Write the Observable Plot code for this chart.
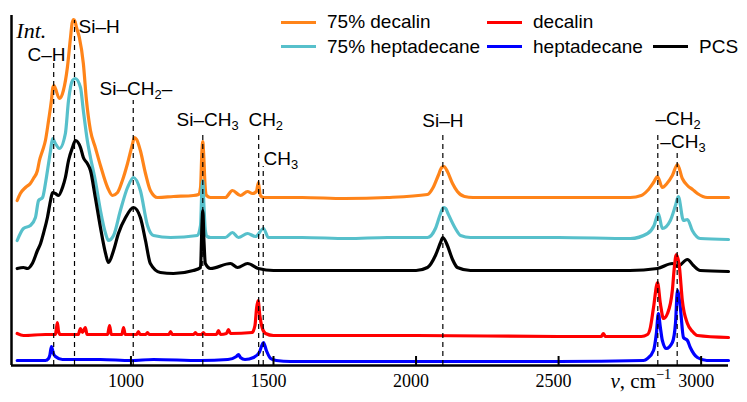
<!DOCTYPE html>
<html>
<head>
<meta charset="utf-8">
<script src="https://cdn.jsdelivr.net/npm/d3@7"></script>
<script src="https://cdn.jsdelivr.net/npm/@observablehq/plot@0.6"></script>
<style>
  html, body { margin: 0; padding: 0; background: #fff; }
  #wrap { position: relative; width: 747px; height: 402px; overflow: hidden; }
  #legend { position: absolute; left: 281px; top: 10px; display: grid;
    grid-template-columns: 206px 166px auto; grid-auto-rows: 24.5px; align-items: center;
    font-family: "Liberation Sans", Arial, sans-serif; font-size: 19px; color: #000; }
  #legend .item { display: flex; align-items: center; white-space: nowrap; }
  #legend .sw { display: inline-block; width: 35px; height: 3px; margin-right: 11px; }
</style>
</head>
<body>
<div id="wrap"><div id="legend"></div></div>
<script>
// ---- data (wavenumber cm^-1, intensity in arbitrary offset units) ----
const decalin75 = [[601,165],[612,172],[630,178],[647,182],[658,187],[672,195],[679,205],[690,215],[700,225],[711,245],[721,265],[726,278],[730,280],[735,277],[749,267],[763,275],[777,298],[788,328],[794,343],[799,346],[804,344],[809,338],[819,328],[833,302],[844,265],[858,235],[875,218],[893,200],[918,178],[935,170],[953,173],[970,185],[988,202],[1005,221],[1012,228],[1020,226],[1033,215],[1051,192],[1068,175],[1093,168],[1149,169],[1219,170],[1237,171],[1244,178],[1249,215],[1252,224],[1255,212],[1260,180],[1265,170],[1279,168],[1331,168],[1356,175],[1384,170],[1409,174],[1426,172],[1440,174],[1447,183],[1454,170],[1465,168],[1600,168],[1750,167],[1900,168],[2040,171],[2060,178],[2078,190],[2090,198],[2098,199],[2110,194],[2128,182],[2145,174],[2170,169],[2200,168],[2500,168],[2752,168],[2790,170],[2812,175],[2833,183],[2847,189],[2864,178],[2880,182],[2899,190],[2917,201],[2934,187],[2952,180],[2970,176],[2987,172],[3022,168],[3096,168]];
const heptadecane75 = [[601,125],[623,137],[647,140],[665,148],[676,165],[690,168],[700,182],[711,202],[718,215],[725,227],[735,222],[749,217],[770,232],[781,265],[795,285],[805,287],[823,278],[833,255],[847,225],[858,208],[875,185],[893,155],[911,132],[921,125],[939,130],[963,155],[988,178],[1009,188],[1033,175],[1058,140],[1079,130],[1139,128],[1233,130],[1244,140],[1249,178],[1252,185],[1256,160],[1261,135],[1267,129],[1279,128],[1331,128],[1356,133],[1377,128],[1409,132],[1437,129],[1465,137],[1482,128],[1600,128],[1760,127],[1900,128],[2040,128],[2068,137],[2086,152],[2096,158],[2104,157],[2112,152],[2138,137],[2156,130],[2191,128],[2500,128],[2752,127],[2812,132],[2835,140],[2850,152],[2864,137],[2892,145],[2910,160],[2920,169],[2938,145],[2952,146],[2969,135],[2997,127],[3096,126]];
const pcs = [[601,97],[623,98],[637,97],[654,102],[672,115],[683,122],[693,132],[707,148],[718,165],[725,173],[735,172],[746,170],[760,178],[770,188],[781,205],[795,218],[805,225],[823,218],[833,208],[847,202],[858,195],[875,168],[893,138],[911,112],[921,103],[939,115],[956,132],[981,148],[1009,158],[1033,148],[1051,125],[1068,102],[1103,93],[1149,92],[1219,95],[1244,98],[1249,140],[1252,155],[1256,125],[1261,102],[1279,97],[1349,102],[1374,98],[1409,102],[1447,97],[1500,95],[2000,95],[2040,98],[2068,110],[2086,123],[2094,128],[2110,120],[2128,106],[2145,98],[2191,95],[2750,95],[2847,97],[2899,102],[2917,99],[2952,106],[2973,100],[2997,95],[3096,94]];
const decalin = [[601,32],[623,30],[700,31],[735,31],[738,36],[742,43],[746,34],[752,31],[815,31],[823,37],[830,33],[836,36],[840,38],[846,31],[918,31],[925,40],[931,31],[968,31],[974,38],[980,31],[1020,31],[1026,34],[1032,31],[1052,31],[1058,33],[1064,31],[1133,31],[1139,34],[1145,31],[1220,31],[1226,33],[1232,31],[1248,31],[1254,33],[1260,31],[1300,31],[1307,35],[1314,31],[1335,32],[1342,36],[1349,32],[1425,33],[1435,40],[1441,58],[1446,65],[1452,50],[1460,38],[1472,32],[1500,30],[1600,30],[2000,30],[2500,29],[2650,29],[2657,32],[2664,29],[2790,29],[2812,31],[2822,38],[2833,58],[2847,83],[2857,62],[2868,47],[2882,52],[2899,75],[2906,98],[2913,111],[2924,98],[2934,65],[2952,42],[2970,34],[2987,30],[3096,28]];
const heptadecane = [[601,5],[700,5],[711,7],[716,11],[721,19],[728,12],[735,9],[760,6],[893,6],[1000,5],[1079,6],[1244,5],[1340,6],[1370,9],[1377,11],[1384,8],[1400,6],[1430,8],[1450,13],[1465,23],[1475,15],[1490,7],[1510,5],[1559,4],[2000,4],[2500,4],[2798,5],[2812,7],[2833,15],[2843,32],[2850,52],[2857,38],[2864,25],[2878,17],[2899,23],[2910,42],[2917,75],[2927,58],[2938,28],[2952,25],[2962,18],[2987,8],[3020,5],[3096,5]];

const seriesNames  = ["75% decalin", "75% heptadecane", "PCS", "heptadecane", "decalin"];
const seriesData   = [decalin75, heptadecane75, pcs, heptadecane, decalin];
const seriesColors = ["#ff8419", "#57c0cb", "#000000", "#0000ff", "#ff0000"];
const legendOrder  = ["75% decalin", "decalin", "", "75% heptadecane", "heptadecane", "PCS"];

// band assignments: position, top of the dashed marker, label and label anchor
const bandPos    = [729, 802, 1008, 1252, 1448, 1464, 2094, 2848, 2916];
const bandTop    = [303, 345, 265, 233, 233, 199, 232, 230, 213];
const bandLabel  = ["C–H", "Si–H", "Si–CH_{2}–", "Si–CH_{3}", "CH_{2}", "CH_{3}", "Si–H", "–CH_{2}", "–CH_{3}"];
const bandLabelX = [637, 816, 890, 1160, 1412, 1465, 2022, 2840, 2857];
const bandLabelY = [305, 333, 271, 240, 240, 201, 239, 241, 218];

const xTicks = [1000, 1500, 2000, 2500, 3000];
const xDomain = [581, 3096];
const yDomain = [0, 350];
const yTitle = "Int.";   const yTitlePos = [598, 328];
const xTitle = "*ν*, cm^{−1}"; const xTitlePos = [2682, -22];

// ---- chart ----
const bands = bandPos.map((v, i) => ({v, top: bandTop[i], label: bandLabel[i], lx: bandLabelX[i], ly: bandLabelY[i]}));
const sans = "'Liberation Sans', Arial, sans-serif";
const serif = "'Liberation Serif', 'Times New Roman', serif";

const chart = Plot.plot({
  width: 747, height: 402,
  marginLeft: 11, marginRight: 19, marginTop: 15, marginBottom: 37,
  x: {domain: xDomain, axis: null},
  y: {domain: yDomain, axis: null},
  style: {background: "white", overflow: "visible"},
  marks: [
    ...seriesData.map((d, i) => Plot.line(d, {x: p => p[0], y: p => p[1], stroke: seriesColors[i], strokeWidth: 3.2, curve: "monotone-x"})),
    Plot.ruleX(bands, {x: "v", y1: yDomain[0], y2: "top", stroke: "black", strokeWidth: 1.2, strokeDasharray: "5,4"}),
    Plot.text(bands, {x: "lx", y: "ly", text: "label", textAnchor: "start", lineAnchor: "bottom", fontSize: 19, fontFamily: sans, fill: "black"}),
    Plot.ruleY([yDomain[0]], {stroke: "black", strokeWidth: 2.5}),
    Plot.ruleX([xDomain[0]], {stroke: "black", strokeWidth: 2.5}),
    Plot.axisX({ticks: xTicks, tickSize: 9, dy: -9, strokeWidth: 2, tickFormat: () => ""}),
    Plot.axisX({ticks: xTicks, tickSize: 0, tickPadding: 9, dx: -5, fontSize: 18, fontFamily: serif, tickFormat: d => String(d)}),
    Plot.text([yTitle], {x: yTitlePos[0], y: yTitlePos[1], text: d => d, textAnchor: "start", lineAnchor: "bottom", fontSize: 22, fontStyle: "italic", fontFamily: serif}),
    Plot.text([xTitle], {x: xTitlePos[0], y: xTitlePos[1], text: d => d, textAnchor: "start", lineAnchor: "bottom", fontSize: 21, fontFamily: serif})
  ]
});
const wrap = document.getElementById("wrap");
wrap.insertBefore(chart, wrap.firstChild);

// rich text: _{sub}, ^{sup}, *italic*
function richify(root) {
  root.querySelectorAll("text").forEach(t => {
    const s = t.textContent;
    if (!/_\{|\^\{|\*/.test(s)) return;
    const F = parseFloat(getComputedStyle(t).fontSize) || 16;
    while (t.firstChild) t.removeChild(t.firstChild);
    const parts = s.split(/(_\{[^}]*\}|\^\{[^}]*\}|\*[^*]*\*)/).filter(p => p);
    let shift = 0;
    for (const p of parts) {
      const ts = document.createElementNS("http://www.w3.org/2000/svg", "tspan");
      let target = 0;
      if (p.startsWith("_{")) { ts.textContent = p.slice(2, -1); ts.setAttribute("font-size", (0.68 * F) + "px"); target = 0.24 * F; }
      else if (p.startsWith("^{")) { ts.textContent = p.slice(2, -1); ts.setAttribute("font-size", (0.68 * F) + "px"); target = -0.4 * F; }
      else if (p.startsWith("*")) { ts.textContent = p.slice(1, -1); ts.setAttribute("font-style", "italic"); }
      else ts.textContent = p;
      const d = target - shift;
      if (d) ts.setAttribute("dy", d);
      shift = target;
      t.appendChild(ts);
    }
  });
}
richify(chart);

// legend
const legend = document.getElementById("legend");
legendOrder.forEach(name => {
  const item = document.createElement("div");
  item.className = "item";
  const i = seriesNames.indexOf(name);
  if (i >= 0) {
    const sw = document.createElement("span");
    sw.className = "sw"; sw.style.background = seriesColors[i];
    item.appendChild(sw);
    item.appendChild(document.createTextNode(name));
  }
  legend.appendChild(item);
});
</script>
</body>
</html>
